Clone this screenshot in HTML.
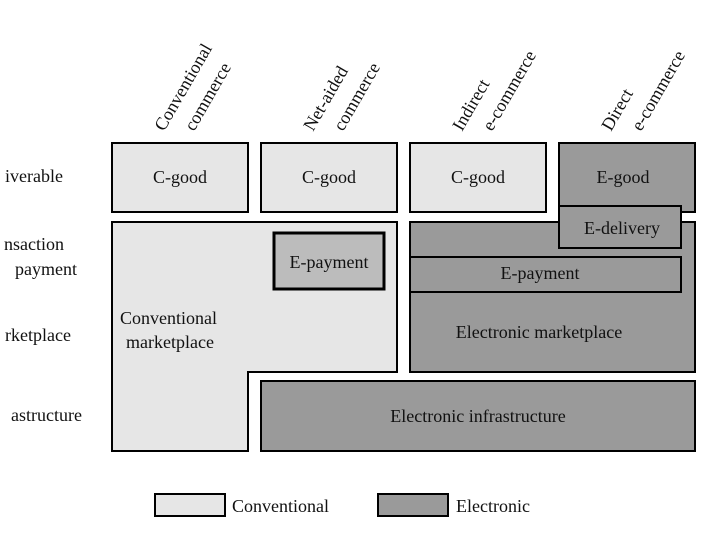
<!DOCTYPE html>
<html><head><meta charset="utf-8"><style>body{margin:0;background:#fff}</style></head><body>
<svg width="720" height="540" viewBox="0 0 720 540" xmlns="http://www.w3.org/2000/svg" font-family="Liberation Serif, serif" font-size="18" fill="#111">
<g stroke="#000" stroke-width="2">
<rect x="112" y="143" width="136" height="69" fill="#e6e6e6"/>
<rect x="261" y="143" width="136" height="69" fill="#e6e6e6"/>
<rect x="410" y="143" width="136" height="69" fill="#e6e6e6"/>
<rect x="559" y="143" width="136" height="69" fill="#9a9a9a"/>
<path d="M112 222 H397 V372 H248 V451 H112 Z" fill="#e6e6e6"/>
<rect x="274" y="233" width="110" height="56" fill="#bcbcbc" stroke-width="3"/>
<rect x="410" y="222" width="285" height="150" fill="#9a9a9a"/>
<rect x="559" y="206" width="122" height="42" fill="#9a9a9a"/>
<rect x="410" y="257" width="271" height="35" fill="#9a9a9a"/>
<rect x="261" y="381" width="434" height="70" fill="#9a9a9a"/>
<rect x="155" y="494" width="70" height="22" fill="#e6e6e6"/>
<rect x="378" y="494" width="70" height="22" fill="#9a9a9a"/>
</g>
<g text-anchor="middle">
<text x="180" y="183">C-good</text>
<text x="329" y="183">C-good</text>
<text x="478" y="183">C-good</text>
<text x="623" y="183">E-good</text>
<text x="622" y="234">E-delivery</text>
<text x="540" y="279">E-payment</text>
<text x="329" y="268">E-payment</text>
<text x="539" y="338">Electronic marketplace</text>
<text x="478" y="422">Electronic infrastructure</text>
</g>
<text x="120" y="324">Conventional</text>
<text x="126" y="348">marketplace</text>
<text x="232" y="512">Conventional</text>
<text x="456" y="512">Electronic</text>
<g text-anchor="end">
<text x="63" y="182">iverable</text>
<text x="64" y="250">nsaction</text>
<text x="77" y="275">payment</text>
<text x="71" y="341">rketplace</text>
<text x="82" y="421">astructure</text>
</g>
<g>
<text transform="translate(164,132) rotate(-60)">Conventional</text>
<text transform="translate(194,132) rotate(-60)">commerce</text>
<text transform="translate(313,132) rotate(-60)">Net-aided</text>
<text transform="translate(343,132) rotate(-60)">commerce</text>
<text transform="translate(462,132) rotate(-60)">Indirect</text>
<text transform="translate(492,132) rotate(-60)">e-commerce</text>
<text transform="translate(611,132) rotate(-60)">Direct</text>
<text transform="translate(641,132) rotate(-60)">e-commerce</text>
</g>
</svg>
</body></html>
